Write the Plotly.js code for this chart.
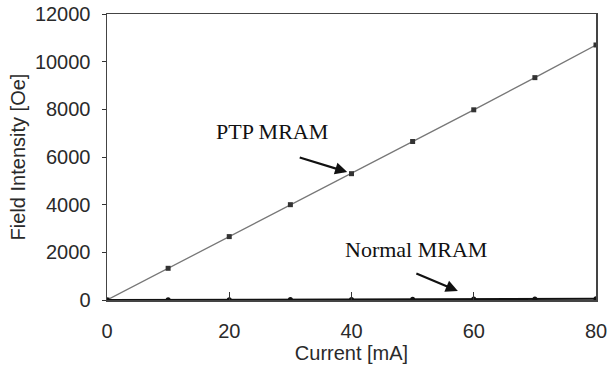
<!DOCTYPE html>
<html><head><meta charset="utf-8">
<script src="https://cdn.plot.ly/plotly-3.0.1.min.js"></script>
<style>html,body{margin:0;padding:0;background:#fff}#c{width:608px;height:367px}</style>
</head><body><div id="c"></div>
<script>
const current = [0, 10, 20, 30, 40, 50, 60, 70, 80];
const ptpField = [0, 1330, 2660, 4000, 5300, 6650, 7980, 9330, 10700];
const normalField = [0, 6, 12, 18, 25, 31, 37, 43, 50];
const xTicks = [0, 20, 40, 60, 80];
const yTicks = [0, 2000, 4000, 6000, 8000, 10000, 12000];

const traces = [
  {x: current, y: ptpField, mode: 'lines+markers', name: 'PTP MRAM',
   line: {color: '#777', width: 1.3}, marker: {symbol: 'square', size: 5, color: '#333'}},
  {x: current, y: normalField, mode: 'lines+markers', name: 'Normal MRAM',
   line: {color: '#111', width: 2}, marker: {symbol: 'circle', size: 5, color: '#111'}}
];
const layout = {
  width: 608, height: 367,
  margin: {l: 107, r: 12, t: 14, b: 67},
  paper_bgcolor: '#fff', plot_bgcolor: '#fff',
  showlegend: false,
  font: {family: 'Liberation Sans, Arial, sans-serif', color: '#2a2a2a', size: 20},
  xaxis: {range: [0, 80], tickvals: xTicks, ticks: 'inside', ticklen: 8, tickcolor: '#333',
    ticklabelstandoff: 12,
    showline: true, linecolor: '#444', linewidth: 1.5, mirror: true, showgrid: false, zeroline: false,
    title: {text: 'Current [mA]', standoff: 2, font: {size: 20}}},
  yaxis: {range: [0, 12000], tickvals: yTicks, tickformat: 'd', ticks: 'outside', ticklen: 4, tickcolor: '#333',
    ticklabelstandoff: 7,
    showline: true, linecolor: '#444', linewidth: 1.5, mirror: true, showgrid: false, zeroline: false,
    title: {text: 'Field Intensity [Oe]', standoff: 4, font: {size: 20}}},
  annotations: [
    {x: 27.0, y: 7050, text: 'PTP MRAM', showarrow: false,
     font: {family: 'Liberation Serif, Times New Roman, serif', size: 22, color: '#111'}},
    {x: 39.3, y: 5370, ax: -49, ay: -15, text: '', showarrow: true, arrowhead: 2,
     arrowsize: 1.1, arrowwidth: 2.2, arrowcolor: '#111', standoff: 0},
    {x: 50.6, y: 2100, text: 'Normal MRAM', showarrow: false,
     font: {family: 'Liberation Serif, Times New Roman, serif', size: 22, color: '#111'}},
    {x: 57.4, y: 380, ax: -43, ay: -18, text: '', showarrow: true, arrowhead: 2,
     arrowsize: 1.1, arrowwidth: 2.2, arrowcolor: '#111', standoff: 0}
  ]
};
Plotly.newPlot('c', traces, layout, {staticPlot: true, displayModeBar: false});
</script></body></html>
